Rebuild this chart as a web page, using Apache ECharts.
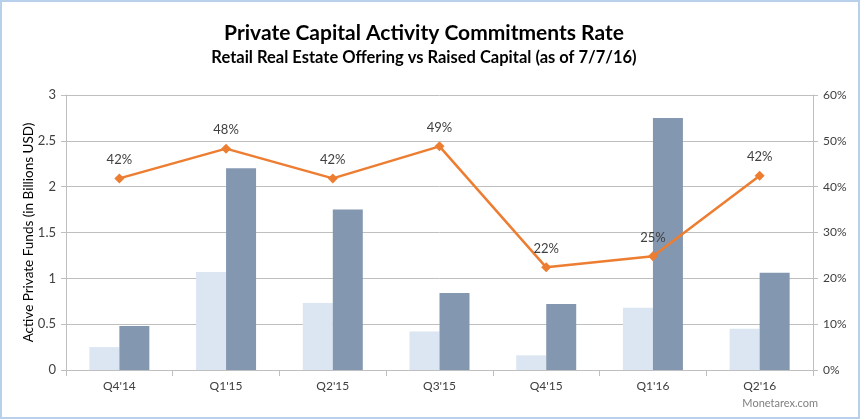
<!DOCTYPE html>
<html><head><meta charset="utf-8">
<script src="https://cdn.jsdelivr.net/npm/echarts@6/dist/echarts.min.js"></script>
<style>html,body{margin:0;padding:0;background:#fff}#c{width:860px;height:419px;box-sizing:border-box;border:2px solid #b8d0ea;}</style>
</head><body><div id="c"></div>
<script>
const categories = ["Q4'14","Q1'15","Q2'15","Q3'15","Q4'15","Q1'16","Q2'16"];
const offering = [0.25,1.07,0.73,0.42,0.16,0.68,0.45];
const raised = [0.48,2.2,1.75,0.84,0.72,2.75,1.06];
const rate = [41.8,48.3,41.8,48.8,22.4,24.8,42.4];
const leftTicks = [0,0.5,1,1.5,2,2.5,3];
const rightTicks = [0,10,20,30,40,50,60];

const chart = echarts.init(document.getElementById('c'));
const font = 'Lato, "Open Sans", sans-serif';
chart.setOption({
  animation:false,
  textStyle:{fontFamily:font},
  title:{text:'Private Capital Activity Commitments Rate',subtext:'Retail Real Estate Offering vs Raised Capital (as of 7/7/16)',
    left:417,top:16,textAlign:'center',itemGap:5,
    textStyle:{fontFamily:font,fontSize:21,fontWeight:'bold',color:'#000'},
    subtextStyle:{fontFamily:font,fontSize:16.5,fontWeight:'bold',color:'#000'}},
  graphic:[{type:'text',right:40,bottom:8,style:{text:'Monetarex.com',font:'11px '+font,fill:'#7f7f7f'}}],
  grid:{left:64,right:45,top:93,bottom:47},
  xAxis:{type:'category',data:categories,
    axisLine:{lineStyle:{color:'#bfbfbf'}},axisTick:{show:true,length:6,lineStyle:{color:'#bfbfbf'}},
    axisLabel:{color:'#404040',fontSize:12,margin:10}},
  yAxis:[{type:'value',min:0,max:3,interval:0.5,name:'Active Private Funds (in Billions USD)',nameLocation:'middle',nameGap:30,
      nameMoveOverlap:false,
      nameTextStyle:{fontSize:13.5,color:'#000'},
      axisLine:{show:true,lineStyle:{color:'#bfbfbf'}},axisTick:{show:true,length:5,lineStyle:{color:'#bfbfbf'}},
      axisLabel:{color:'#404040',fontSize:13,margin:10,formatter:v=>leftTicks.includes(v)?String(v):''},
      splitLine:{lineStyle:{color:'#bfbfbf'}}},
    {type:'value',min:0,max:60,interval:10,position:'right',
      axisLine:{show:true,lineStyle:{color:'#bfbfbf'}},axisTick:{show:true,length:5,lineStyle:{color:'#bfbfbf'}},
      axisLabel:{color:'#404040',fontSize:12,margin:10,formatter:v=>rightTicks.includes(v)?v+'%':''},
      splitLine:{show:false}}],
  series:[
    {type:'bar',data:offering,barWidth:30,barGap:'0%',itemStyle:{color:'#dce6f2'}},
    {type:'bar',data:raised,barWidth:30,itemStyle:{color:'#8497b0'}},
    {type:'line',yAxisIndex:1,data:rate,symbol:'diamond',symbolSize:10,lineStyle:{color:'#ed7d31',width:2.5},
      itemStyle:{color:'#ed7d31'},label:{show:true,position:'top',distance:7,color:'#404040',fontSize:13,
      formatter:p=>Math.round(p.value)+'%'}}
  ]
});
</script></body></html>
